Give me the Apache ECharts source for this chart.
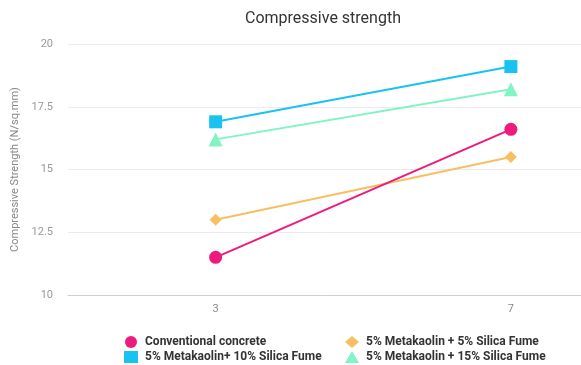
<!DOCTYPE html>
<html>
<head>
<meta charset="utf-8">
<script src="https://cdn.jsdelivr.net/npm/echarts@6/dist/echarts.min.js"></script>
<style>
  html, body { margin: 0; padding: 0; background: #fff; }
  #chart { width: 581px; height: 365px; }
</style>
</head>
<body>
<div id="chart"></div>
<script>
// Curing age (days)
const categories = ['3', '7'];

// Compressive strength in N/sq.mm for each mix
const conventional = [11.5, 16.6];
const mk5sf5 = [13.0, 15.5];
const mk5sf10 = [16.9, 19.1];
const mk5sf15 = [16.2, 18.2];

const seriesNames = [
  'Conventional concrete',
  '5% Metakaolin + 5% Silica Fume',
  '5% Metakaolin+ 10% Silica Fume',
  '5% Metakaolin + 15% Silica Fume'
];

const yTicks = ['10', '12.5', '15', '17.5', '20'];

const colors = ['#ee1a7c', '#f8bf62', '#18c3f1', '#80f4c2'];
const symbols = ['circle', 'diamond', 'rect', 'triangle'];
const symbolSizes = [13, 12, 13, 14];
const dataSets = [conventional, mk5sf5, mk5sf10, mk5sf15];

const ages = categories.map(Number);

const font = 'Roboto, "Noto Sans", sans-serif';

const chart = echarts.init(document.getElementById('chart'), null, { renderer: 'canvas' });

const legendText = { fontFamily: font, fontSize: 12, fontWeight: 'bold', color: '#333', padding: [0, 0, 0, 2] };

const legendBase = {
  orient: 'vertical',
  top: 336,
  height: 40,
  padding: 0,
  itemWidth: 14,
  itemHeight: 12,
  itemGap: 3,
  textStyle: legendText
};

chart.setOption({
  animation: false,
  backgroundColor: '#ffffff',
  title: {
    text: 'Compressive strength',
    left: 318,
    top: 6,
    textAlign: 'center',
    textStyle: { fontFamily: font, fontSize: 16, fontWeight: 'normal', color: '#333' }
  },
  legend: [
    Object.assign({}, legendBase, {
      left: 124,
      data: [
        { name: seriesNames[0], icon: 'circle' },
        { name: seriesNames[2], icon: 'rect' }
      ]
    }),
    Object.assign({}, legendBase, {
      left: 345,
      data: [
        { name: seriesNames[1], icon: 'diamond' },
        { name: seriesNames[3], icon: 'triangle' }
      ]
    })
  ],
  grid: { left: 68, top: 44, bottom: 70, right: 0, containLabel: false },
  // the age axis keeps a half-step of padding on the left; the plot runs on past the right edge
  xAxis: {
    type: 'value',
    min: 1,
    max: 7.95,
    axisLine: { show: true, onZero: false, lineStyle: { color: '#cfcfcf', width: 1 } },
    axisTick: { show: false },
    splitLine: { show: false },
    axisLabel: {
      fontFamily: font,
      fontSize: 11,
      color: '#888',
      margin: 9,
      customValues: ages,
      formatter: v => categories.find(c => Number(c) === v) || ''
    }
  },
  yAxis: {
    type: 'value',
    min: 10,
    max: 20,
    interval: 2.5,
    name: 'Compressive Strength (N/sq.mm)',
    nameLocation: 'middle',
    nameGap: 43,
    nameTextStyle: { fontFamily: font, fontSize: 11, color: '#888' },
    axisLine: { show: false },
    axisTick: { show: false },
    splitLine: { lineStyle: { color: '#ebebeb', width: 1 } },
    axisLabel: {
      fontFamily: font,
      fontSize: 11,
      color: '#999',
      margin: 15,
      formatter: v => yTicks.find(t => Number(t) === v) || ''
    }
  },
  series: dataSets.map((d, i) => ({
    name: seriesNames[i],
    type: 'line',
    data: d.map((v, j) => [ages[j], v]),
    symbol: symbols[i],
    symbolSize: symbolSizes[i],
    showSymbol: true,
    clip: false,
    color: colors[i],
    lineStyle: { width: 2, color: colors[i] },
    itemStyle: { color: colors[i] },
    z: 10 - i
  }))
});
</script>
</body>
</html>
